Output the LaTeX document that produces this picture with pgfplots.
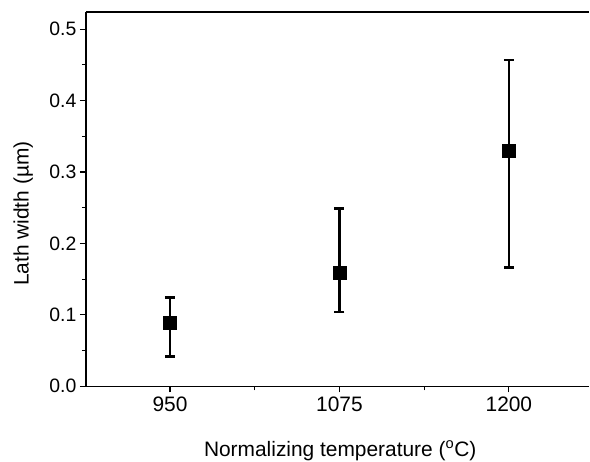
\documentclass[border=0pt]{standalone}
\usepackage{pgfplots}
\pgfplotsset{compat=1.18}
\usepackage{fontspec}
\setmainfont{Liberation Sans}
\begin{document}
\begin{tikzpicture}
\begin{axis}[
  scale only axis,
  width=504bp, height=374.7bp,
  xmin=888, xmax=1259.4,
  ymin=0, ymax=0.524,
  axis x line*=bottom,
  axis y line*=left,
  axis line style={line width=1.2bp, black},
  x axis line style={-},
  y axis line style={-},
  xtick={950,1075,1200},
  minor xtick={1012.5,1137.5},
  ytick={0,0.1,0.2,0.3,0.4,0.5},
  minor ytick={0.05,0.15,0.25,0.35,0.45},
  yticklabel style={/pgf/number format/fixed, /pgf/number format/fixed zerofill, /pgf/number format/precision=1, font=\fontsize{19.5}{21}\selectfont},
  xticklabel style={/pgf/number format/1000 sep={}, font=\fontsize{21}{22}\selectfont, yshift=-1bp},
  /pgf/number format/assume math mode=true,
  tick align=outside,
  major tick length=6bp,
  minor tick length=4bp,
  tick style={line width=1.2bp, black},
  label style={font=\fontsize{21}{23}\selectfont},
  xlabel={Normalizing temperature (\textsuperscript{o}C)},
  ylabel={Lath width (µm)},
  xlabel style={at={(axis description cs:0.505,-0.1868)}, anchor=base, inner sep=0pt},
  ylabel style={at={(axis description cs:-0.105,0.461)}, anchor=south, inner sep=0pt},
  clip=false,
]
\addplot[black, only marks, mark=square*, mark size=6.5bp,
  error bars/.cd, y dir=both, y explicit,
  error bar style={line width=2.6bp},
  error mark options={rotate=90, mark size=5bp, line width=2.6bp}]
  coordinates {
    (950,0.0895) -= (0,0.048) += (0,0.035)
    (1075,0.159) -= (0,0.055) += (0,0.0895)
    (1200,0.330) -= (0,0.164) += (0,0.127)
  };
\draw[line width=1.2bp] (rel axis cs:0,1) -- (rel axis cs:1,1);
\coordinate (ll) at (rel axis cs:0,0);
\coordinate (ur) at (rel axis cs:1,1);
\end{axis}
\path ([xshift=-86bp,yshift=-75.3bp]ll) coordinate (bbsw);
\path ([yshift=12bp]ur) coordinate (bbne);
\end{tikzpicture}
\end{document}
